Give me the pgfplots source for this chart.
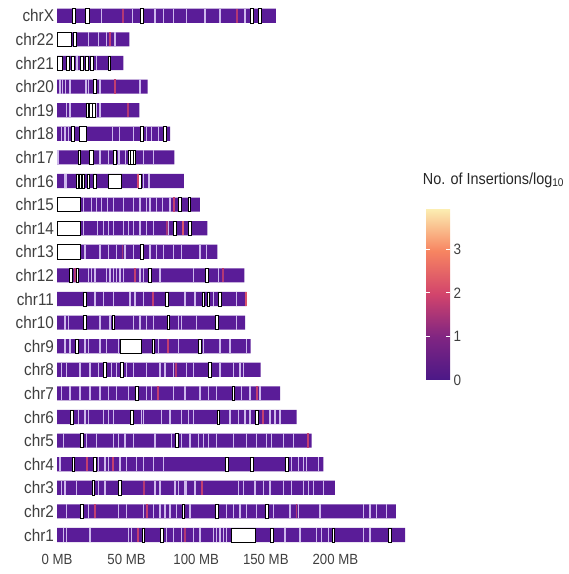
\documentclass[border=0pt]{standalone}
\usepackage{pgfplots}
\pgfplotsset{compat=1.18}
\usepackage{pgfplotstable}
\usepackage{fontspec}
\setmainfont{Liberation Sans}[FakeStretch=0.9]
\definecolor{gray30}{HTML}{3F3F3F}
\definecolor{basepurple}{HTML}{5A1C98}
\definecolor{lightstripe}{HTML}{CDB8EC}
\pgfplotsset{colormap={ins}{rgb255=(75,24,135) rgb255=(128,37,130) rgb255=(210,68,108) rgb255=(247,133,97) rgb255=(252,240,180)}}
\pgfdeclareplotmark{gapbox}{\pgfpathrectangle{\pgfpoint{-0.5*\gw*1.392bp}{-7.1bp}}{\pgfpoint{\gw*1.392bp}{14.2bp}}\pgfusepathqfillstroke}
\pgfdeclareplotmark{stripe}{\pgfpathrectangle{\pgfpoint{-0.7bp}{-7.1bp}}{\pgfpoint{1.4bp}{14.2bp}}\pgfusepathqfill}
\pgfdeclareplotmark{redstripe}{\pgfpathrectangle{\pgfpoint{-0.9bp}{-7.1bp}}{\pgfpoint{1.8bp}{14.2bp}}\pgfusepathqfill}

% chromosome lengths (MB)
\pgfplotstableread{
y len
1 250.0
2 243.5
3 199.7
4 191.3
5 183.0
6 172.2
7 160.2
8 146.3
9 139.1
10 135.1
11 136.3
12 134.6
13 115.2
14 108.0
15 102.7
16 91.2
17 84.3
18 81.2
19 59.2
20 65.1
21 47.7
22 52.0
23 157.3
}\chrlen

% white gaps (no insertions): centre, chromosome, width (MB)
\pgfplotstableread{
x y w
12.2 23 2.4
21.8 23 2.4
60.8 23 2.4
139.9 23 2.4
145.8 23 2.4
5.4 22 10.2
12.9 22 2.4
1.9 21 3.4
7.8 21 2.6
11.6 21 2.0
18.0 21 2.0
21.5 21 2.0
25.0 21 2.2
37.5 21 1.8
27.2 20 2.8
21.8 19 1.8
24.2 19 1.8
26.6 19 1.8
11.1 18 2.2
18.7 18 5.3
60.8 18 2.0
77.6 18 2.0
16.0 17 2.0
24.6 17 3.0
41.7 17 1.8
51.8 17 1.8
53.6 17 1.8
55.4 17 1.8
14.5 16 1.8
16.7 16 1.8
19.0 16 1.8
22.5 16 1.8
27.3 16 2.0
41.7 16 9.6
59.6 16 2.0
8.4 15 16.2
88.4 15 2.0
95.1 15 2.0
8.4 14 16.2
84.8 14 1.8
95.5 14 2.0
8.4 13 16.2
60.8 13 2.0
9.8 12 2.0
14.6 12 2.0
66.8 12 2.0
107.5 12 2.0
20.1 11 2.0
78.8 11 2.0
105.1 11 1.8
108.7 11 1.8
117.1 11 2.0
20.1 10 2.0
40.5 10 2.0
80.0 10 2.0
114.7 10 2.0
14.1 9 2.0
53.0 9 15.5
69.2 9 2.0
102.7 9 2.0
34.5 8 2.0
46.5 8 2.0
109.9 8 2.0
57.2 7 2.0
126.7 7 2.0
10.5 6 2.0
53.6 6 2.0
115.9 6 2.0
143.4 6 2.0
17.7 5 2.0
86.0 5 2.0
11.7 4 2.0
27.3 4 2.0
122.0 4 2.0
139.8 4 2.0
165.0 4 2.0
26.1 3 2.0
45.3 3 2.0
17.7 2 2.0
90.8 2 2.0
114.7 2 2.0
150.6 2 2.0
62.0 1 2.0
75.2 1 2.0
133.85 1 16.7
154.2 1 2.0
198.5 1 2.0
239.2 1 2.0
}\gapW

% light stripes (few insertions)
\pgfplotstableread{
x y
32.1 23
54.1 23
70.4 23
76.4 23
83.6 23
93.2 23
106.3 23
117.1 23
135.1 23
22.5 22
29.7 22
35.7 22
41.7 22
14.5 21
28.5 21
2.2 20
4.0 20
6.0 20
9.3 20
20.8 20
22.5 20
30.9 20
59.6 20
7.0 19
9.3 19
28.5 19
30.9 19
3.4 18
5.7 18
8.1 18
40.0 18
45.0 18
54.8 18
64.4 18
68.0 18
72.8 18
0.6 17
30.9 17
36.9 17
44.5 17
49.0 17
62.0 17
69.2 17
5.7 16
7.0 16
62.0 16
66.0 16
18.9 15
24.9 15
28.5 15
32.1 15
36.2 15
40.5 15
47.7 15
54.8 15
59.6 15
64.4 15
66.8 15
71.6 15
75.9 15
81.2 15
18.9 14
29.0 14
33.3 14
36.9 14
40.5 14
47.7 14
51.2 14
54.8 14
59.6 14
64.4 14
69.2 14
80.0 14
20.1 13
30.9 13
36.9 13
42.9 13
48.9 13
54.8 13
66.8 13
71.6 13
76.4 13
83.6 13
89.6 13
102.7 13
107.5 13
22.5 12
24.9 12
27.3 12
35.7 12
38.1 12
40.5 12
42.9 12
45.3 12
47.7 12
59.6 12
62.0 12
74.0 12
98.0 12
115.9 12
27.3 11
33.3 11
40.5 11
52.4 11
56.0 11
62.0 11
92.0 11
99.1 11
112.3 11
129.1 11
5.7 10
8.1 10
30.9 10
38.1 10
54.8 10
59.6 10
64.4 10
69.2 10
87.2 10
89.6 10
100.3 10
129.1 10
5.7 9
9.3 9
20.1 9
22.5 9
30.9 9
35.7 9
44.1 9
72.8 9
87.2 9
105.1 9
117.1 9
124.3 9
136.3 9
3.4 8
6.9 8
16.5 8
23.7 8
29.7 8
39.3 8
42.9 8
50.0 8
54.8 8
64.4 8
74.0 8
77.6 8
83.6 8
93.2 8
97.9 8
117.1 8
126.7 8
131.5 8
133.9 8
3.4 7
9.3 7
16.5 7
23.7 7
30.9 7
36.9 7
42.9 7
51.2 7
64.4 7
68.0 7
83.6 7
92.0 7
102.7 7
108.7 7
114.7 7
132.7 7
138.6 7
145.8 7
15.3 6
20.1 6
22.5 6
33.3 6
36.9 6
40.5 6
60.8 6
62.0 6
75.2 6
81.2 6
89.6 6
94.3 6
97.9 6
124.3 6
130.3 6
135.1 6
138.6 6
153.0 6
156.6 6
160.2 6
4.5 5
21.3 5
28.5 5
40.5 5
44.1 5
48.9 5
54.8 5
70.4 5
82.4 5
89.6 5
95.5 5
101.5 5
105.1 5
108.7 5
114.7 5
126.7 5
136.3 5
143.4 5
150.6 5
154.2 5
162.6 5
169.8 5
2.2 4
29.7 4
34.5 4
36.9 4
45.3 4
50.0 4
57.2 4
62.0 4
69.2 4
76.4 4
168.6 4
173.4 4
177.0 4
179.4 4
187.7 4
3.4 3
5.7 3
14.1 3
29.7 3
34.5 3
62.0 3
70.4 3
74.0 3
84.8 3
87.2 3
92.0 3
93.2 3
99.1 3
130.3 3
133.9 3
142.2 3
148.2 3
153.0 3
162.6 3
168.6 3
177.0 3
180.6 3
184.1 3
191.3 3
6.9 2
22.5 2
44.1 2
50.0 2
62.0 2
69.2 2
74.0 2
77.6 2
81.2 2
86.0 2
95.5 2
121.9 2
126.7 2
131.5 2
136.3 2
143.4 2
155.4 2
167.4 2
173.4 2
188.9 2
220.1 2
224.9 2
229.6 2
236.8 2
4.5 1
6.9 1
23.7 1
51.2 1
53.6 1
78.8 1
83.6 1
89.6 1
97.9 1
102.7 1
112.3 1
114.7 1
117.1 1
119.5 1
121.9 1
163.8 1
174.6 1
186.5 1
190.1 1
194.9 1
220.1 1
224.9 1
}\gapL

% hot spots: centre, chromosome, log10 insertions
\pgfplotstableread{
x y v
47.7 23 1.6
129.1 23 1.6
38.1 22 1.8
41.7 20 1.8
51.2 19 1.6
58.0 16 2.0
84.3 15 1.8
78.8 14 1.4
90.8 14 2.2
47.0 13 1.4
12.9 12 1.6
56.0 12 1.8
119.5 12 1.6
69.2 11 1.8
135.5 11 2.2
80.0 9 1.8
85.5 8 1.6
72.8 7 1.8
143.4 7 1.8
148.2 6 1.8
180.6 5 1.8
21.8 4 1.8
40.5 4 1.8
62.5 3 1.6
104.0 3 1.8
27.3 2 1.8
64.4 2 1.8
172.0 2 1.6
58.4 1 1.8
92.0 1 1.6
}\hot

\begin{document}
\begin{tikzpicture}
\useasboundingbox (-57bp,-27.2bp) rectangle (512bp,546.8bp);
\begin{axis}[
  x=1.392bp, y=23.6bp,
  xmin=0, xmax=250, ymin=0.5, ymax=23.5,
  clip=false,
  axis line style={draw=none},
  tick style={draw=none},
  xtick={0,50,100,150,200},
  xticklabels={0 MB,50 MB,100 MB,150 MB,200 MB},
  ytick={1,...,23},
  yticklabels={chr1,chr2,chr3,chr4,chr5,chr6,chr7,chr8,chr9,chr10,chr11,chr12,chr13,chr14,chr15,chr16,chr17,chr18,chr19,chr20,chr21,chr22,chrX},
  yticklabel style={font=\fontsize{17bp}{19bp}\selectfont, text=gray30, xshift=0.5bp},
  xticklabel style={font=\fontsize{14.7bp}{17bp}\selectfont, text=gray30, yshift=-4bp},
  colormap name=ins,
  point meta min=0, point meta max=3.95,
  colorbar,
  colorbar/width=24bp,
  colorbar style={
    at={(parent axis.south west)}, anchor=south west,
    xshift=360.5bp, yshift=166.8bp,
    scale only axis, width=24bp, height=172bp,
    axis line style={draw=none},
    ytick={0,1,2,3},
    ytick pos=both, yticklabel pos=right,
    tick align=inside, major tick length=4bp,
    ytick style={draw=white, line width=0.9bp},
    /pgf/number format/assume math mode=true,
    yticklabel style={font=\fontsize{15bp}{17bp}\selectfont, text=gray30},
    title={No. of Insertions/log\textsubscript{10}},
    title style={anchor=base west, at={(0,1)}, inner sep=0pt, xshift=-3.3bp, yshift=18bp, font=\fontsize{16bp}{18bp}\selectfont, text=black!85},
  },
]
\addplot[xbar, bar width=0.6, fill=basepurple, draw=none] table[x=len, y=y] {\chrlen};
\addplot[only marks, mark=stripe, mark options={fill=lightstripe, draw=none}] table[x=x, y=y] {\gapL};
\addplot[only marks, mark=gapbox, visualization depends on={\thisrow{w}\as\gw}, mark options={fill=white, draw=black, line width=0.7bp}] table[x=x, y=y] {\gapW};
\addplot[scatter, only marks, mark=redstripe, point meta=explicit, scatter/use mapped color={draw=none, fill=mapped color}] table[x=x, y=y, meta=v] {\hot};
\end{axis}
\end{tikzpicture}
\end{document}
